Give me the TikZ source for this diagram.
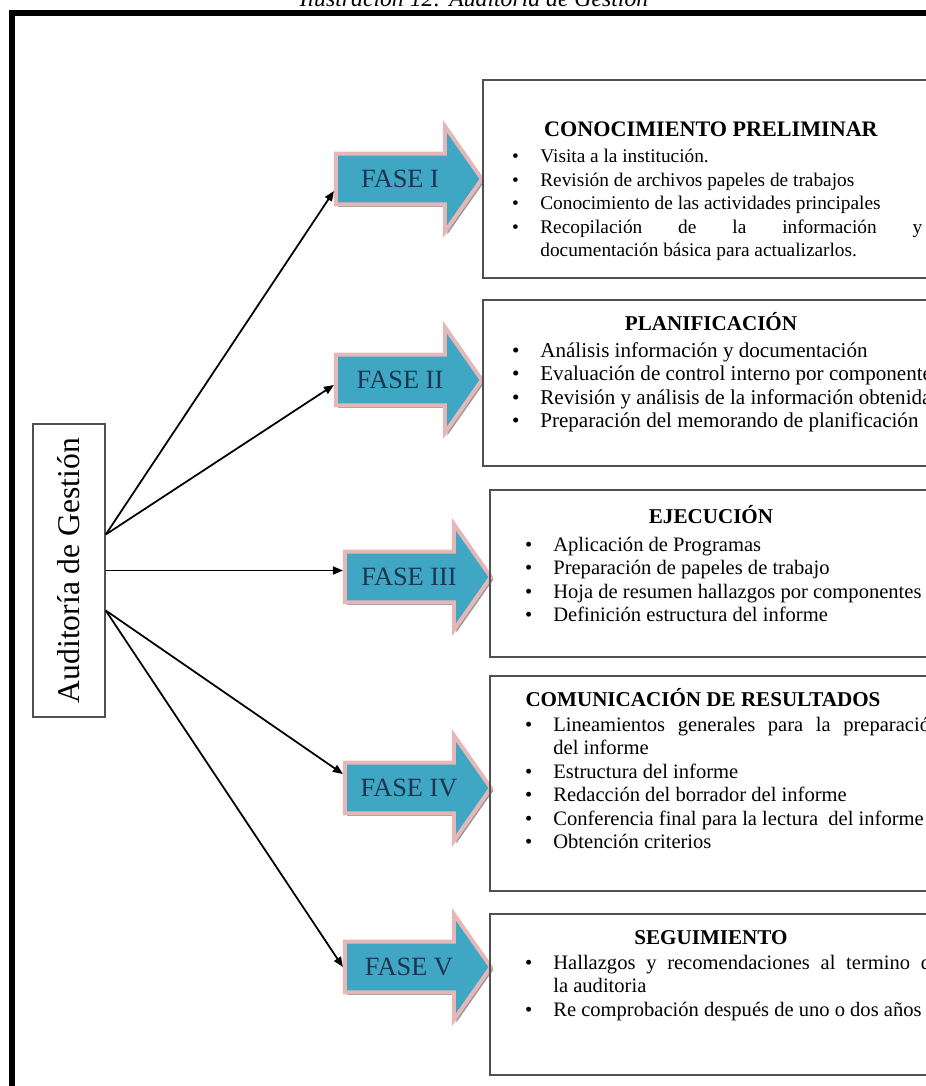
\documentclass[tikz,border=0pt]{standalone}
\usepackage{fontspec}
\setmainfont{Liberation Serif}
\usepackage{graphicx}
\usetikzlibrary{arrows.meta, calc, positioning, shapes.arrows, shadows}
\definecolor{faseazul}{HTML}{3FA7C4}
\definecolor{faserosa}{HTML}{E5B8B7}
\definecolor{fasetinta}{HTML}{1C3550}
\definecolor{marcogris}{HTML}{505050}
\newcommand{\punto}[1]{\hyphenpenalty=10000\noindent\hangindent=0.6cm\hangafter=1%
  \makebox[0.6cm][l]{\hspace{1pt}\textbullet}\rule{0pt}{10pt}#1\par}

\begin{document}
\begin{tikzpicture}[x=0.02cm, y=-0.02cm,
  fase/.style={single arrow, draw=faserosa, line width=0.08cm, fill=faseazul, text=fasetinta,
    font=\fontsize{15}{15}\selectfont, text height=9.9pt, text depth=0pt, inner xsep=2pt, inner ysep=8.4pt,
    minimum height=2.92cm, single arrow head extend=0.55cm, single arrow tip angle=110,
    drop shadow={shadow xshift=0.05cm, shadow yshift=-0.05cm, fill=black!45, opacity=0.9}},
  titulo/.style={font=\fontsize{12}{14}\selectfont\bfseries, anchor=base, inner sep=0pt},
  lista/.style={font=\fontsize{11.7}{13.4}\selectfont, text width=8.34cm, align=justify,
    anchor=north west, inner sep=0pt},
  conector/.style={line width=0.035cm, -{Triangle[length=0.2cm, width=0.16cm]}},
  marco/.style={draw=marcogris, line width=0.04cm}]
  \useasboundingbox (0,0) rectangle (926,1086);
  \clip (0,0) rectangle (926,1086);
  \node[font=\fontsize{13.5}{14}\selectfont\itshape, anchor=base] (leyenda) at (474,6) {Ilustración 12: Auditoría de Gestión};
  \draw[line width=0.13cm] (12,13) rectangle (980,1120);

  \node[draw=marcogris, line width=0.03cm, fill=white, minimum width=1.44cm, minimum height=5.86cm, inner sep=0pt,
    font=\fontsize{18}{18}\selectfont] (aud) at (69,570.5) {\rotatebox{90}{Auditoría de Gestión}};

  \node[fase] (f1) at (400,179) {FASE I};
  \node[fase] (f2) at (400,380) {FASE II};
  \node[fase] (f3) at (409,577) {FASE III};
  \node[fase] (f4) at (409,788) {FASE IV};
  \node[fase] (f5) at (409,967) {FASE V};

  \draw[conector] ($(aud.east)+(0,-36)$) -- ($(f1.west)+(0,12)$);
  \draw[conector] ($(aud.east)+(0,-36)$) -- ($(f2.west)+(0,5)$);
  \draw[conector] (aud.east) -- (aud.east -| f3.west);
  \draw[conector] ($(aud.east)+(0,40)$) -- ($(f4.west)+(0,-14)$);
  \draw[conector] ($(aud.east)+(0,40)$) -- (f5.west);

  \draw[marco] (483,80) rectangle (960,278);
  \node[titulo, font=\fontsize{12.6}{14}\selectfont\bfseries] (t1) at (711,136.5) {CONOCIMIENTO PRELIMINAR};
  \node[lista, text width=8.24cm, font=\fontsize{11}{13.4}\selectfont] (l1) at (510,144.7) {%
    \punto{Visita a la institución.}
    \punto{Revisión de archivos papeles de trabajos}
    \punto{Conocimiento de las actividades principales}
    \punto{Recopilación de la información y\linebreak documentación básica para actualizarlos.}};

  \draw[marco] (483,300) rectangle (960,466);
  \node[titulo] (t2) at (711,330.5) {PLANIFICACIÓN};
  \node[lista, text width=9.6cm, font=\fontsize{12}{13.4}\selectfont] (l2) at (510,339.2) {%
    \punto{Análisis información y documentación}
    \punto{Evaluación de control interno por componentes}
    \punto{Revisión y análisis de la información obtenida}
    \punto{Preparación del memorando de planificación}};

  \draw[marco] (490,490) rectangle (960,657);
  \node[titulo] (t3) at (711,523.5) {EJECUCIÓN};
  \node[lista] (l3) at (523,533.2) {%
    \punto{Aplicación de Programas}
    \punto{Preparación de papeles de trabajo}
    \punto{Hoja de resumen hallazgos por componentes}
    \punto{Definición estructura del informe}};

  \draw[marco] (490,676) rectangle (960,891);
  \node[titulo] (t4) at (703,706.5) {COMUNICACIÓN DE RESULTADOS};
  \node[lista] (l4) at (523,713.2) {%
    \punto{Lineamientos generales para la preparación\linebreak del informe}
    \punto{Estructura del informe}
    \punto{Redacción del borrador del informe}
    \punto{Conferencia final para la lectura\ \ del informe}
    \punto{Obtención criterios}};

  \draw[marco] (490,914) rectangle (960,1075);
  \node[titulo] (t5) at (711,944.5) {SEGUIMIENTO};
  \node[lista] (l5) at (523,951.2) {%
    \punto{Hallazgos y recomendaciones al termino de\linebreak la auditoria}
    \punto{Re comprobación después de uno o dos años}};
\end{tikzpicture}
\end{document}
